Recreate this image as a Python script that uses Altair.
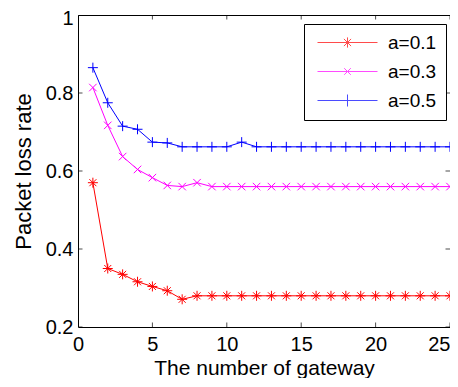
import altair as alt
import pandas as pd

# ---- data ----
gateways = list(range(1, 26))
series_names = ["a=0.1", "a=0.3", "a=0.5"]
loss_a01 = [0.57, 0.35, 0.335, 0.316, 0.304, 0.293, 0.271, 0.28, 0.28, 0.28,
            0.28, 0.28, 0.28, 0.28, 0.28, 0.28, 0.28, 0.28, 0.28, 0.28,
            0.28, 0.28, 0.28, 0.28, 0.28]
loss_a03 = [0.814, 0.717, 0.637, 0.604, 0.583, 0.563, 0.56, 0.57, 0.56, 0.56,
            0.56, 0.56, 0.56, 0.56, 0.56, 0.56, 0.56, 0.56, 0.56, 0.56,
            0.56, 0.56, 0.56, 0.56, 0.56]
loss_a05 = [0.865, 0.775, 0.715, 0.707, 0.674, 0.672, 0.662, 0.662, 0.662, 0.662,
            0.674, 0.662, 0.662, 0.662, 0.662, 0.662, 0.662, 0.662, 0.662, 0.662,
            0.662, 0.662, 0.662, 0.662, 0.662]
x_ticks = [0, 5, 10, 15, 20, 25]
y_ticks = [0.2, 0.4, 0.6, 0.8, 1.0]

colors = ["#ff0000", "#ff00ff", "#0000ff"]
marker_paths = [
    "M0,-1L0,1M-1,0L1,0M-0.7,-0.7L0.7,0.7M-0.7,0.7L0.7,-0.7",
    "M-0.75,-0.75L0.75,0.75M-0.75,0.75L0.75,-0.75",
    "M0,-1L0,1M-1,0L1,0",
]
legend_paths = [
    "M-1,0L1,0M0,-0.17L0,0.17M-0.12,-0.12L0.12,0.12M-0.12,0.12L0.12,-0.12",
    "M-1,0L1,0M-0.11,-0.11L0.11,0.11M-0.11,0.11L0.11,-0.11",
    "M-1,0L1,0M0,-0.2L0,0.2",
]

rows = []
for name, vals in zip(series_names, [loss_a01, loss_a03, loss_a05]):
    for g, v in zip(gateways, vals):
        rows.append({"gateway": g, "loss": v, "series": name})
df = pd.DataFrame(rows)

FONT = "Liberation Sans"

x_enc = alt.X("gateway:Q",
              scale=alt.Scale(domain=[0, 25], nice=False),
              axis=alt.Axis(values=x_ticks, title="The number of gateway",
                            tickSize=0, domain=False, grid=False,
                            labelFontSize=20, titleFontSize=21, labelPadding=7,
                            titlePadding=3, labelFont=FONT, titleFont=FONT,
                            labelColor="black", titleColor="black",
                            titleFontWeight="normal", labelFlush=False,
                            labelAlign={"expr": "datum.value == 25 ? 'right' : 'center'"}))
y_enc = alt.Y("loss:Q",
              scale=alt.Scale(domain=[0.2, 1.0], nice=False),
              axis=alt.Axis(values=y_ticks, title="Packet loss rate",
                            tickSize=0, domain=False, grid=False,
                            labelFontSize=20, titleFontSize=22, labelPadding=5,
                            titlePadding=10, labelFont=FONT, titleFont=FONT,
                            labelColor="black", titleColor="black",
                            titleFontWeight="normal", labelFlush=False,
                            labelOffset={"expr": "datum.value == 1 ? 3 : 0"},
                            labelExpr="datum.value == 1 ? '1' : format(datum.value, '.1f')"))

color_scale = alt.Scale(domain=series_names, range=colors)

lines = alt.Chart(df).mark_line(strokeWidth=1).encode(
    x=x_enc, y=y_enc,
    color=alt.Color("series:N", scale=color_scale, legend=None),
    detail="series:N",
)

points = alt.Chart(df).mark_point(filled=False, strokeWidth=1, size=100, opacity=1).encode(
    x="gateway:Q", y="loss:Q",
    color=alt.Color("series:N", scale=color_scale, legend=None),
    shape=alt.Shape("series:N", scale=alt.Scale(domain=series_names, range=marker_paths), legend=None),
)

legend_props = dict(orient="none", legendX=226, legendY=9,
                     strokeColor="black", fillColor="white",
                     cornerRadius=0, padding=9, rowPadding=9,
                     symbolSize=3600, symbolStrokeWidth=1,
                     clipHeight=19, symbolOffset=4, labelOffset=10,
                     labelFontSize=19, labelFont=FONT, labelColor="black")

legend_layer = alt.Chart(df).transform_filter("false").mark_point(filled=False, strokeWidth=1).encode(
    x="gateway:Q", y="loss:Q",
    color=alt.Color("series:N", scale=color_scale, title=None,
                    legend=alt.Legend(**legend_props)),
    shape=alt.Shape("series:N", scale=alt.Scale(domain=series_names, range=legend_paths),
                    title=None, legend=alt.Legend(**legend_props)),
)

tick_x = pd.DataFrame({"t": x_ticks})
tick_y = pd.DataFrame({"t": y_ticks})

ticks_bottom = alt.Chart(tick_x).mark_tick(orient="vertical", size=9, thickness=1,
                                           color="black", clip=True).encode(
    x="t:Q", y=alt.datum(0.2))
ticks_top = alt.Chart(tick_x).mark_tick(orient="vertical", size=9, thickness=1,
                                        color="black", clip=True).encode(
    x="t:Q", y=alt.datum(1.0))
ticks_left = alt.Chart(tick_y).mark_tick(orient="horizontal", size=9, thickness=1,
                                         color="black", clip=True).encode(
    y="t:Q", x=alt.datum(0))
ticks_right = alt.Chart(tick_y).mark_tick(orient="horizontal", size=9, thickness=1,
                                          color="black", clip=True).encode(
    y="t:Q", x=alt.datum(25))

chart = alt.layer(
    lines, points, legend_layer, ticks_bottom, ticks_top, ticks_left, ticks_right
).resolve_scale(
    color="independent", shape="independent"
).properties(
    width=372, height=312,
    autosize=alt.AutoSizeParams(type="none"),
    padding={"left": 70, "top": 7, "right": 0, "bottom": 51},
    background="white",
).configure_view(
    stroke="black", strokeWidth=1
)

chart.save("out.html", embed_options={"renderer": "svg", "actions": False})
